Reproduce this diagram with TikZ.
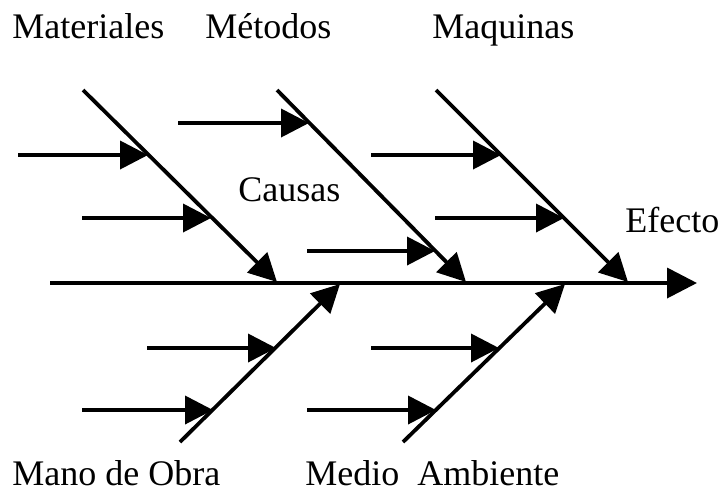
\documentclass[tikz,border=0pt]{standalone}
\usepackage{fontspec}
\setmainfont{Liberation Serif}
\usetikzlibrary{arrows.meta}
\begin{document}
\begin{tikzpicture}[x=0.5pt,y=-0.5pt,
  bone/.style={line width=1.9pt,-{Triangle[length=14pt,width=14pt]}},
  spine/.style={line width=1.9pt,-{Triangle[length=15pt,width=15pt]}},
  lbl/.style={anchor=base west,inner sep=0pt,font=\fontsize{18}{20}\selectfont}]
\useasboundingbox (0,0) rectangle (718,495);
% spine
\coordinate (s0) at (50,283);
\coordinate (s1) at (697,283);
\draw[spine] (s0) -- (s1);
% top branches
\coordinate (ma0) at (83,90);   \coordinate (ma1) at (277,282);
\coordinate (me0) at (277,90);  \coordinate (me1) at (466,282);
\coordinate (mq0) at (436,90);  \coordinate (mq1) at (628,282);
\draw[bone] (ma0) -- (ma1);
\draw[bone] (me0) -- (me1);
\draw[bone] (mq0) -- (mq1);
% bottom branches
\coordinate (mo0) at (180,442); \coordinate (mo1) at (340,284);
\coordinate (md0) at (403,442); \coordinate (md1) at (565,284);
\draw[bone] (mo0) -- (mo1);
\draw[bone] (md0) -- (md1);
% sub-causes
\coordinate (a1) at (18,155);  \coordinate (b1) at (148,155);
\coordinate (a2) at (82,218);  \coordinate (b2) at (211,218);
\coordinate (a3) at (178,123); \coordinate (b3) at (309,123);
\coordinate (a4) at (307,251); \coordinate (b4) at (435,251);
\coordinate (a5) at (371,155); \coordinate (b5) at (501,155);
\coordinate (a6) at (435,218); \coordinate (b6) at (564,218);
\coordinate (a7) at (147,348); \coordinate (b7) at (276,348);
\coordinate (a8) at (82,410);  \coordinate (b8) at (213,410);
\coordinate (a9) at (371,348); \coordinate (b9) at (499,348);
\coordinate (a10) at (307,410); \coordinate (b10) at (436,410);
\foreach \i in {1,...,10} \draw[bone] (a\i) -- (b\i);
% labels
\node[lbl] (tmat) at (12,38) {Materiales};
\node[lbl] (tmet) at (205,38) {Métodos};
\node[lbl] (tmaq) at (432,38) {Maquinas};
\node[lbl] (tcau) at (238,201) {Causas};
\node[lbl] (tefe) at (625,232) {Efecto};
\node[lbl] (tmob) at (12,485) {Mano de Obra};
\node[lbl] (tmam) at (305,485) {Medio\hspace{9pt}Ambiente};
\end{tikzpicture}
\end{document}
